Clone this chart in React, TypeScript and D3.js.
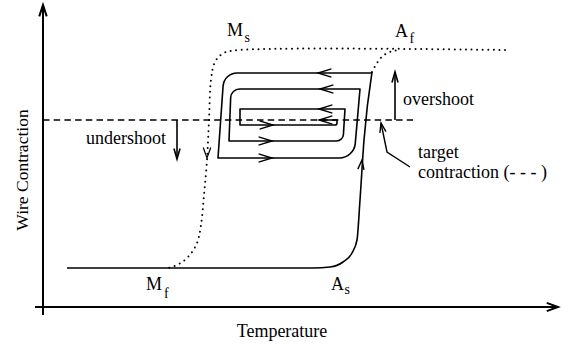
import React from "react";
import * as d3 from "d3";

// Data in (temperature, contraction) units
const heatingBranch: [number, number][] = [
  [4.8, 13], [54, 13], [57.4, 13.33], [60, 15], [61.8, 18], [62.8, 22.33],
  [63.4, 35.67], [64.2, 55.67], [65.8, 78.33],
];
const minorLoop: [number, number][] = [
  [65.6, 78], [36.2, 78], [35, 49.67], [62.2, 49.67], [63.4, 72.67],
  [37.6, 72.67], [37.2, 55.33], [60, 55.33], [60.4, 66], [39.4, 66],
  [39.4, 60.67], [58.8, 60.67], [58.8, 62.33], [55.2, 62.33],
];
const coolingBranch: [number, number][] = [
  [92.4, 85.67], [39.4, 85.67], [36.2, 84.67], [34.4, 81.67], [33.6, 75.67],
  [33.2, 62.33], [32.8, 49], [32.2, 37.33], [31.6, 27.33], [30.8, 21.33],
  [29.2, 17], [27.2, 14.33], [25, 13],
];
const afBranch: [number, number][] = [
  [65.8, 78.33], [66.8, 81.33], [68.2, 84], [70, 85.33], [71.4, 85.67],
];
const targetContraction = 62.33;
const targetExtent: [number, number] = [0, 74];
const leftArrowTips: [number, number][] = [[55, 78], [55.4, 72.67], [55.2, 66]];
const rightArrowTips: [number, number][] = [[45.8, 49.67], [45.8, 55.33], [46, 60.67]];
const heatingArrowTip: [number, number] = [63.8, 49];
const coolingArrowTip: [number, number] = [32.8, 49.7];
const overshoot: [number, number][] = [[70.4, 62.33], [70.4, 78.33]];
const undershoot: [number, number][] = [[26.8, 62.33], [26.8, 49.33]];
const leader: [number, number][] = [[73.4, 46.67], [68.8, 51.67], [67.6, 61.33]];
const axisLabels = { x: "Temperature", y: "Wire Contraction" };
const annotationTexts = ["undershoot", "overshoot", "target", "contraction (- - - )"];

const W = 571, H = 347;
const x = d3.scaleLinear().domain([0, 100]).range([43, 543]);
const y = d3.scaleLinear().domain([0, 100]).range([307, 7]);
const px = (p: [number, number]): [number, number] => [x(p[0]), y(p[1])];

const loopRadii = [0, 14, 0, 16, 0, 9, 0, 7, 0, 0, 0, 2, 0, 0];

function roundedPath(pts: [number, number][], radii: number[]) {
  const p = d3.path();
  const q = pts.map(px);
  p.moveTo(q[0][0], q[0][1]);
  for (let i = 1; i < q.length - 1; i++) {
    if (radii[i] > 0) p.arcTo(q[i][0], q[i][1], q[i + 1][0], q[i + 1][1], radii[i]);
    else p.lineTo(q[i][0], q[i][1]);
  }
  p.lineTo(q[q.length - 1][0], q[q.length - 1][1]);
  return p.toString();
}

function chevron(tip: [number, number], angleDeg: number, len: number, spread: number) {
  const a = (angleDeg * Math.PI) / 180;
  const s = (spread * Math.PI) / 180;
  const b1 = a + Math.PI - s, b2 = a + Math.PI + s;
  const p = d3.path();
  p.moveTo(tip[0] + len * Math.cos(b1), tip[1] + len * Math.sin(b1));
  p.lineTo(tip[0], tip[1]);
  p.lineTo(tip[0] + len * Math.cos(b2), tip[1] + len * Math.sin(b2));
  return p.toString();
}

export default function App() {
  const lineMono = d3.line<[number, number]>().x(d => x(d[0])).y(d => y(d[1])).curve(d3.curveMonotoneX);
  const lineCR = d3.line<[number, number]>().x(d => x(d[0])).y(d => y(d[1])).curve(d3.curveCatmullRom.alpha(0.5));
  const lineLin = d3.line<[number, number]>().x(d => x(d[0])).y(d => y(d[1]));
  const font = "'Liberation Serif', 'Times New Roman', serif";
  const hl = px(heatingArrowTip);
  const ht = px([heatingBranch[7][0], heatingBranch[7][1]]);
  const hAng = (Math.atan2(y(heatingBranch[8][1]) - ht[1], x(heatingBranch[8][0]) - ht[0]) * 180) / Math.PI;
  const lead0 = px(leader[1]), lead1 = px(leader[2]);
  const leadAng = (Math.atan2(lead1[1] - lead0[1], lead1[0] - lead0[0]) * 180) / Math.PI;
  return (
    <svg width={W} height={H} style={{ position: "absolute", left: 0, top: 0, background: "#fff" }}>
      <rect width={W} height={H} fill="#fff" />
      {/* axes */}
      <line x1={x(-1.6)} x2={x(103)} y1={y(0)} y2={y(0)} stroke="#000" strokeWidth={2} />
      <line x1={x(0)} x2={x(0)} y1={y(-2.67)} y2={y(100.67)} stroke="#000" strokeWidth={2} />
      <path d={chevron([x(103), y(0)], 0, 12, 20)} fill="none" stroke="#000" strokeWidth={2} />
      <path d={chevron([x(0), y(100.67)], -90, 12, 18)} fill="none" stroke="#000" strokeWidth={2} />

      {/* target dashed line */}
      <line x1={x(targetExtent[0])} x2={x(targetExtent[1])} y1={y(targetContraction)} y2={y(targetContraction)}
        stroke="#000" strokeWidth={1.3} strokeDasharray="6.5 4.2" />

      {/* dotted martensite branches */}
      <path d={lineCR(coolingBranch) || ""} fill="none" stroke="#000" strokeWidth={2} strokeLinecap="round" strokeDasharray="0 5.6" />
      <path d={lineCR(afBranch) || ""} fill="none" stroke="#000" strokeWidth={2} strokeLinecap="round" strokeDasharray="0 5.6" />
      <path d={chevron(px(coolingArrowTip), 90, 11, 20)} fill="none" stroke="#000" strokeWidth={1.2} />

      {/* heating branch */}
      <path d={lineMono(heatingBranch) || ""} fill="none" stroke="#000" strokeWidth={1.6} />
      <path d={chevron(hl, hAng, 10, 18)} fill="none" stroke="#000" strokeWidth={1.4} />

      {/* minor loops */}
      <path d={roundedPath(minorLoop, loopRadii)} fill="none" stroke="#000" strokeWidth={1.6} strokeLinejoin="round" />
      {leftArrowTips.concat([minorLoop[minorLoop.length - 1]]).map((t, i) => (
        <path key={"l" + i} d={chevron(px(t), 180, 14, 17)} fill="none" stroke="#000" strokeWidth={1.4} />
      ))}
      {rightArrowTips.map((t, i) => (
        <path key={"r" + i} d={chevron(px(t), 0, 14, 17)} fill="none" stroke="#000" strokeWidth={1.4} />
      ))}

      {/* overshoot / undershoot arrows */}
      <path d={lineLin(overshoot) || ""} fill="none" stroke="#000" strokeWidth={1.6} />
      <path d={chevron(px(overshoot[1]), -90, 11, 16)} fill="none" stroke="#000" strokeWidth={1.6} />
      <path d={lineLin(undershoot) || ""} fill="none" stroke="#000" strokeWidth={1.6} />
      <path d={chevron(px(undershoot[1]), 90, 11, 16)} fill="none" stroke="#000" strokeWidth={1.6} />
      <path d={lineLin(leader) || ""} fill="none" stroke="#000" strokeWidth={1.4} />
      <path d={chevron(lead1, leadAng, 10, 18)} fill="none" stroke="#000" strokeWidth={1.4} />

      {/* text */}
      <g fontFamily={font} fill="#000">
        <text x={282} y={337} fontSize={18} textAnchor="middle">{axisLabels.x}</text>
        <text transform="translate(28,170) rotate(-90)" fontSize={17.5} textAnchor="middle">{axisLabels.y}</text>
        <text x={86} y={144} fontSize={18}>{annotationTexts[0]}</text>
        <text x={403} y={105} fontSize={18}>{annotationTexts[1]}</text>
        <text x={418} y={158} fontSize={18}>{annotationTexts[2]}</text>
        <text x={418} y={178} fontSize={18}>{annotationTexts[3]}</text>
        <text x={227} y={36} fontSize={18}>M<tspan fontSize={14} dx={1.5} dy={6}>s</tspan></text>
        <text x={395} y={37} fontSize={18}>A<tspan fontSize={14} dx={1.5} dy={6}>f</tspan></text>
        <text x={146} y={290} fontSize={18}>M<tspan fontSize={14} dx={2} dy={8}>f</tspan></text>
        <text x={331} y={290} fontSize={18}>A<tspan fontSize={14} dx={0.5} dy={4}>s</tspan></text>
      </g>
    </svg>
  );
}
